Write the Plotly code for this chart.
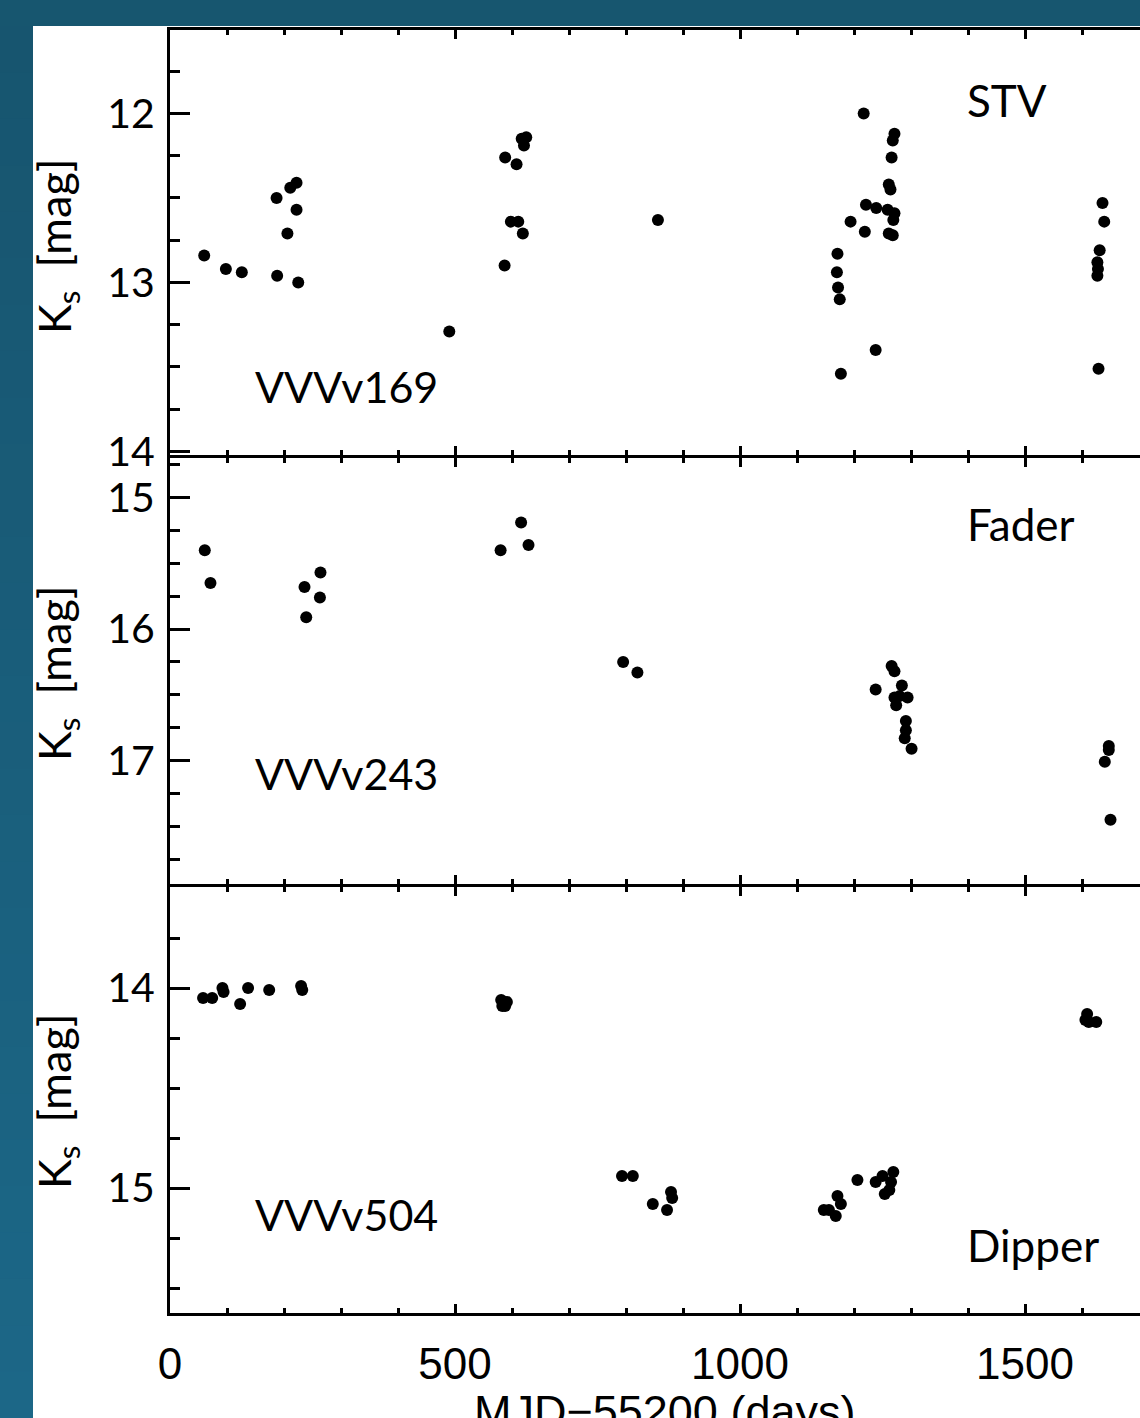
import plotly.graph_objects as go

# ---------------- data (MJD-55200 in days, Ks in mag) ----------------
stv_days = [60, 98, 126, 187, 188, 211, 222, 222, 206, 225, 490,
            588, 608, 617, 625, 621, 598, 611, 619, 587, 856,
            1217, 1271, 1268, 1266, 1261, 1264, 1221, 1239, 1259, 1271, 1269,
            1194, 1219, 1261, 1268, 1171, 1170, 1172, 1175, 1238, 1177,
            1636, 1639, 1631, 1627, 1628, 1627, 1629]
stv_ks = [12.84, 12.92, 12.94, 12.50, 12.96, 12.44, 12.41, 12.57, 12.71, 13.00, 13.29,
          12.26, 12.30, 12.15, 12.14, 12.19, 12.64, 12.64, 12.71, 12.90, 12.63,
          12.00, 12.12, 12.16, 12.26, 12.42, 12.45, 12.54, 12.56, 12.57, 12.59, 12.63,
          12.64, 12.70, 12.71, 12.72, 12.83, 12.94, 13.03, 13.10, 13.40, 13.54,
          12.53, 12.64, 12.81, 12.88, 12.92, 12.96, 13.51]

fader_days = [61, 71, 264, 236, 263, 239, 616, 580, 629, 795, 820,
              1266, 1271, 1238, 1284, 1294, 1271, 1274, 1280, 1291, 1291, 1289, 1301,
              1647, 1647, 1640, 1650]
fader_ks = [15.40, 15.65, 15.57, 15.68, 15.76, 15.91, 15.19, 15.40, 15.36, 16.25, 16.33,
            16.28, 16.32, 16.46, 16.43, 16.52, 16.52, 16.58, 16.51, 16.70, 16.77, 16.83, 16.91,
            16.89, 16.92, 17.01, 17.45]

dipper_days = [58, 74, 92, 94, 123, 137, 174, 230, 232,
               581, 583, 588, 591, 585,
               793, 812, 847, 879, 881, 872,
               1156, 1171, 1177, 1168, 1147, 1206, 1238, 1250, 1269, 1265, 1262, 1254,
               1609, 1606, 1612, 1625]
dipper_ks = [14.05, 14.05, 14.00, 14.02, 14.08, 14.00, 14.01, 13.99, 14.01,
             14.06, 14.09, 14.09, 14.07, 14.07,
             14.94, 14.94, 15.08, 15.02, 15.05, 15.11,
             15.11, 15.04, 15.08, 15.14, 15.11, 14.96, 14.97, 14.94, 14.92, 14.97, 15.01, 15.03,
             14.13, 14.16, 14.17, 14.17]

names = ["VVVv169", "VVVv243", "VVVv504"]
classes = ["STV", "Fader", "Dipper"]
x_ticks = [0, 500, 1000, 1500]

# ---------------- figure ----------------
W, H = 1140, 1418
ML, MR, MT, MB = 170, 0, 30, 105
PW, PH = W - ML - MR, H - MT - MB


def px_x(p):
    return (p - ML) / PW


def px_y(p):
    return (H - MB - p) / PH


LABEL_FONT = "Lato, 'Noto Sans', sans-serif"
TICK_FONT_X = "'Liberation Sans', Arial, sans-serif"

fig = go.Figure()
series = [(stv_days, stv_ks, "y"), (fader_days, fader_ks, "y2"), (dipper_days, dipper_ks, "y3")]
xrefs = ["x", "x2", "x3"]
for (d, k, ya), xa in zip(series, xrefs):
    fig.add_trace(go.Scatter(x=d, y=k, mode="markers", xaxis=xa, yaxis=ya,
                             marker=dict(color="black", size=12, line=dict(width=0)),
                             showlegend=False, hoverinfo="skip"))

# panel pixel bounds (overlap by line width so shared spines coincide)
doms = [[px_y(454.5), px_y(30)], [px_y(884), px_y(457.5)], [px_y(1313), px_y(887)]]
yranges = [[14.018, 11.506], [17.939, 14.695], [15.625, 13.495]]

x_common = dict(range=[0, (W - ML) / 0.57], showgrid=False, zeroline=False,
                showline=True, linecolor="black", linewidth=3, mirror="ticks",
                ticks="inside", ticklen=9, tickwidth=2.5, tickcolor="black",
                tickmode="array", tickvals=x_ticks,
                minor=dict(dtick=100, ticks="inside", ticklen=5, tickwidth=2.5, tickcolor="black"))
y_common = dict(showgrid=False, zeroline=False, showline=True, linecolor="black", linewidth=3,
                ticks="inside", ticklen=20, tickwidth=2.5, tickcolor="black", dtick=1,
                tickfont=dict(family=LABEL_FONT, size=41, color="black"), ticklabelstandoff=4,
                minor=dict(dtick=0.25, ticks="inside", ticklen=10, tickwidth=2.5, tickcolor="black"))

layout = dict(width=W, height=H, margin=dict(l=ML, r=MR, t=MT, b=MB),
              paper_bgcolor="#17566f", plot_bgcolor="white")
for i in range(3):
    xs = "" if i == 0 else str(i + 1)
    yn = "yaxis" + xs
    xn = "xaxis" + xs
    xa = dict(x_common)
    xa["anchor"] = "y" + xs
    if i < 2:
        xa["showticklabels"] = False
        xa["matches"] = "x3"
    else:
        xa["showticklabels"] = True
        xa["tickfont"] = dict(family=TICK_FONT_X, size=44, color="black")
        xa["ticklabelstandoff"] = 10
    ya = dict(y_common)
    ya["domain"] = doms[i]
    ya["range"] = yranges[i]
    ya["anchor"] = "x" + xs
    layout[xn] = xa
    layout[yn] = ya
fig.update_layout(**layout)

# background: white page area with blue frame strips (gradient left strip)
shapes = [dict(type="rect", xref="paper", yref="paper", x0=px_x(33), x1=px_x(W + 5),
               y0=px_y(H + 5), y1=px_y(26), fillcolor="white", line=dict(width=0), layer="below")]
n = 30
c0 = (0x17, 0x55, 0x6f)
c1 = (0x1c, 0x67, 0x87)
for j in range(n):
    t = j / (n - 1)
    col = "rgb(%d,%d,%d)" % tuple(round(a + (b - a) * t) for a, b in zip(c0, c1))
    ytop = 26 + (H - 26) * j / n
    ybot = 26 + (H - 26) * (j + 1) / n + 1
    shapes.append(dict(type="rect", xref="paper", yref="paper", x0=px_x(-2), x1=px_x(33),
                       y0=px_y(ybot), y1=px_y(ytop), fillcolor=col, line=dict(width=0), layer="below"))
fig.update_layout(shapes=shapes)

ann = []
name_y = [386, 773, 1214]
class_y = [100, 524, 1245]
ylab_y = [246, 673, 1101]
for i in range(3):
    ann.append(dict(text=names[i], xref="paper", yref="paper", x=px_x(253), y=px_y(name_y[i]),
                    xanchor="left", yanchor="middle", showarrow=False,
                    font=dict(family=LABEL_FONT, size=43, color="black")))
    ann.append(dict(text=classes[i], xref="paper", yref="paper", x=px_x(965), y=px_y(class_y[i]),
                    xanchor="left", yanchor="middle", showarrow=False,
                    font=dict(family=LABEL_FONT, size=44, color="black")))
    ann.append(dict(text="K<sub>s</sub>\u00a0\u00a0[mag]", xref="paper", yref="paper", x=px_x(57),
                    y=px_y(ylab_y[i]),
                    xanchor="center", yanchor="middle", textangle=-90, showarrow=False,
                    font=dict(family=LABEL_FONT, size=45, color="black")))
ann.append(dict(text="MJD\u221255200 (days)", xref="paper", yref="paper", x=px_x(664), y=px_y(1384),
                xanchor="center", yanchor="top", showarrow=False,
                font=dict(family=TICK_FONT_X, size=45, color="black")))
fig.update_layout(annotations=ann)

fig.write_html("out.html")
